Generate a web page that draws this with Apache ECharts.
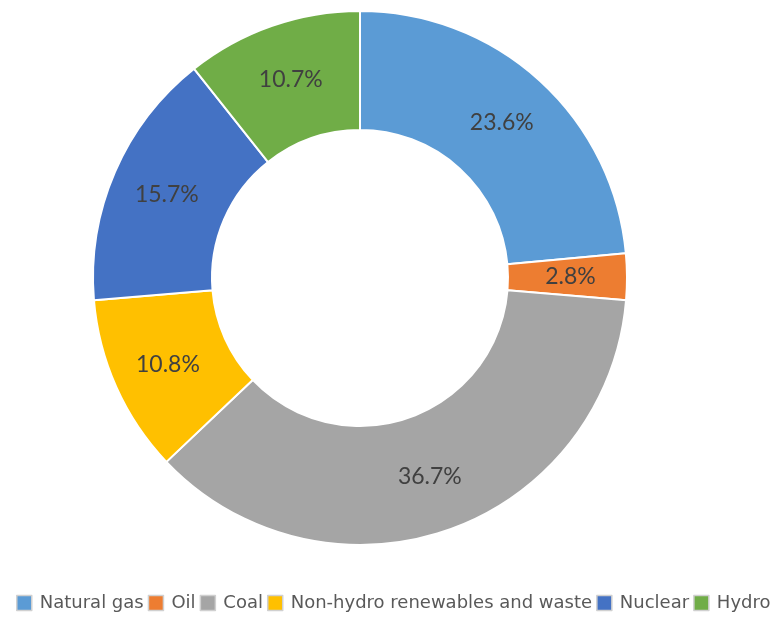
<!DOCTYPE html>
<html>
<head>
<meta charset="utf-8">
<script src="https://cdn.jsdelivr.net/npm/echarts@6/dist/echarts.min.js"></script>
<style>
  html, body { margin: 0; padding: 0; background: #ffffff; }
  #chart { width: 776px; height: 617px; }
</style>
</head>
<body>
<div id="chart"></div>
<script>
// Electricity generation mix by source (share, %)
const categories = ['Natural gas', 'Oil', 'Coal', 'Non-hydro renewables and waste', 'Nuclear', 'Hydro'];
const shares = [23.6, 2.8, 36.7, 10.8, 15.7, 10.7];
const colors = ['#5B9BD5', '#ED7D31', '#A5A5A5', '#FFC000', '#4472C4', '#70AD47'];

const chart = echarts.init(document.getElementById('chart'), null, { renderer: 'canvas' });

chart.setOption({
  animation: false,
  color: colors,
  legend: {
    top: 594,
    left: 16,
    padding: 0,
    itemWidth: 15,
    itemHeight: 15,
    itemGap: 4,
    icon: 'rect',
    itemStyle: { borderColor: '#d0d0d0', borderWidth: 1.5 },
    textStyle: { fontFamily: 'DejaVu Sans', fontSize: 18, color: '#595959', padding: [0, 0, 0, 3] },
    data: categories
  },
  series: [{
    type: 'pie',
    center: [360, 278],
    radius: [148, 267],
    startAngle: 90,
    clockwise: true,
    avoidLabelOverlap: false,
    itemStyle: { borderColor: '#ffffff', borderWidth: 2 },
    label: {
      show: true,
      position: 'inside',
      formatter: p => p.value.toFixed(1) + '%',
      fontFamily: 'Lato',
      fontSize: 23,
      color: '#404040'
    },
    labelLine: { show: false },
    data: categories.map((name, i) => ({ name, value: shares[i] }))
  }]
});
</script>
</body>
</html>
